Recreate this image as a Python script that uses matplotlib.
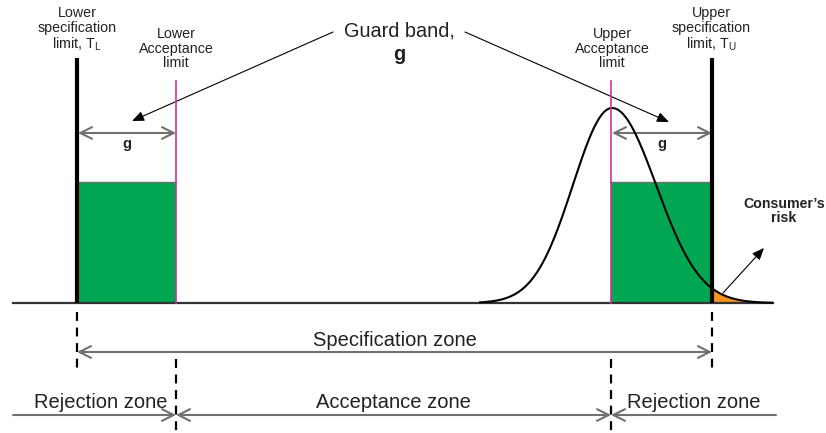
import matplotlib
matplotlib.use('Agg')
import matplotlib.pyplot as plt
import numpy as np

plt.rcParams['font.family'] = ['Liberation Sans', 'DejaVu Sans']
plt.rcParams['mathtext.fontset'] = 'custom'
plt.rcParams['mathtext.rm'] = 'Liberation Sans'

# positions along the measurement axis (diagram units)
limit_names = ['T_L', 'LAL', 'UAL', 'T_U']
limit_pos = [77, 176, 611, 712]
axis_start, axis_end = 13, 773

# measured distribution (slightly skewed bell) and levels
dist_mean = 612
dist_sigma_left, dist_sigma_right = 39, 44
dist_start, dist_end = 480, 772
dist_peak = 195          # curve height above baseline
band_height = 121        # height of the green guard bands

zone_labels = ['Rejection zone', 'Acceptance zone', 'Rejection zone']

GREEN = '#00a651'
ORANGE = '#f7941d'
PINK = '#cc3399'
GRAY = '#707070'
TXT = '#222222'

fig = plt.figure(figsize=(8.26, 4.33), dpi=100)
ax = fig.add_axes([0, 0, 1, 1])
ax.set_xlim(0, 826)
ax.set_ylim(433, 0)
ax.axis('off')

base = 303
TL, LAL, UAL, TU = limit_pos

# guard bands
for x0, x1 in [(TL, LAL), (UAL, TU)]:
    ax.fill_between([x0, x1], base, base - band_height, color=GREEN, lw=0, zorder=1)
    ax.plot([x0, x1], [base - band_height] * 2, color=GRAY, lw=1, zorder=2)

# distribution curve
x = np.linspace(dist_start, dist_end, 500)
sig = np.where(x < dist_mean, dist_sigma_left, dist_sigma_right)
y = base - dist_peak * np.exp(-0.5 * ((x - dist_mean) / sig) ** 2)
tail = x >= TU
ax.fill_between(x[tail], base, y[tail], color=ORANGE, lw=0, zorder=2)
ax.plot(x, y, color='black', lw=1.5, zorder=4)

# baseline
ax.plot([axis_start, axis_end], [base, base], color='#333333', lw=1.6, zorder=3)

# limit lines
ax.plot([TL, TL], [58, base], color='black', lw=3, zorder=5, solid_capstyle='butt')
ax.plot([TU, TU], [58, base], color='black', lw=3, zorder=5, solid_capstyle='butt')
ax.plot([LAL, LAL], [81, base], color=PINK, lw=1.2, zorder=5)
ax.plot([UAL, UAL], [81, base], color=PINK, lw=1.2, zorder=5)

# limit labels
lab_kw = dict(ha='center', va='top', fontsize=10.3, linespacing=1.05, color=TXT)
ax.text(TL, 6, 'Lower\nspecification\nlimit, T$_{\\mathrm{L}}$', **lab_kw)
ax.text(TU - 1, 6, 'Upper\nspecification\nlimit, T$_{\\mathrm{U}}$', **lab_kw)
ax.text(LAL, 27, 'Lower\nAcceptance\nlimit', **lab_kw)
ax.text(UAL + 1, 27, 'Upper\nAcceptance\nlimit', **lab_kw)

# g arrows
gray_arrow = dict(color=GRAY, lw=1.5, shrinkA=0, shrinkB=0, mutation_scale=12)
for x0, x1 in [(TL, LAL), (UAL, TU)]:
    ax.annotate('', xy=(x1, 133), xytext=(x0 + 1, 133),
                arrowprops=dict(arrowstyle='<->,head_length=0.7,head_width=0.35', **gray_arrow))
    ax.text((x0 + x1) / 2, 144, 'g', ha='center', va='center', fontsize=10.5,
            fontweight='bold', color=TXT)

# guard band title
ax.text(399, 31, 'Guard band,', ha='center', va='center', fontsize=14.3, color=TXT)
ax.text(399, 54, 'g', ha='center', va='center', fontsize=14.3, fontweight='bold', color=TXT)
black_arrow = dict(arrowstyle='-|>,head_length=0.6,head_width=0.25', color='black', lw=0.8,
                   shrinkA=0, shrinkB=0, mutation_scale=12)
ax.annotate('', xy=(132, 121), xytext=(333, 32), arrowprops=black_arrow)
ax.annotate('', xy=(669, 122), xytext=(465, 32), arrowprops=black_arrow)

# consumer's risk
ax.text(784, 211, "Consumer\u2019s\nrisk", ha='center', va='center', fontsize=10.2,
        fontweight='bold', linespacing=1.05, color=TXT)
ax.annotate('', xy=(764, 248), xytext=(723, 293), arrowprops=black_arrow)

# dashed extension lines
dash_kw = dict(color='black', lw=1.6, dashes=(4, 3))
ax.plot([TL, TL], [312, 372], **dash_kw)
ax.plot([TU, TU], [312, 372], **dash_kw)
ax.plot([LAL, LAL], [359, 433], **dash_kw)
ax.plot([UAL, UAL], [359, 433], **dash_kw)

# specification zone
ax.annotate('', xy=(TU, 352), xytext=(TL, 352),
            arrowprops=dict(arrowstyle='<->,head_length=0.7,head_width=0.35', **gray_arrow))
ax.text((TL + TU) / 2, 341, 'Specification zone', ha='center', va='center',
        fontsize=14.5, color=TXT)

# bottom zones
yb = 415
ax.annotate('', xy=(LAL, yb), xytext=(axis_start, yb),
            arrowprops=dict(arrowstyle='->,head_length=0.7,head_width=0.35', **gray_arrow))
ax.annotate('', xy=(UAL, yb), xytext=(LAL, yb),
            arrowprops=dict(arrowstyle='<->,head_length=0.7,head_width=0.35', **gray_arrow))
ax.annotate('', xy=(UAL, yb), xytext=(776, yb),
            arrowprops=dict(arrowstyle='->,head_length=0.7,head_width=0.35', **gray_arrow))
zone_x = [(axis_start + LAL) / 2 + 6, (LAL + UAL) / 2, (UAL + 776) / 2]
for zx, zl in zip(zone_x, zone_labels):
    ax.text(zx, 402, zl, ha='center', va='center', fontsize=14.5, color=TXT)

fig.savefig('out.png', dpi=100)
